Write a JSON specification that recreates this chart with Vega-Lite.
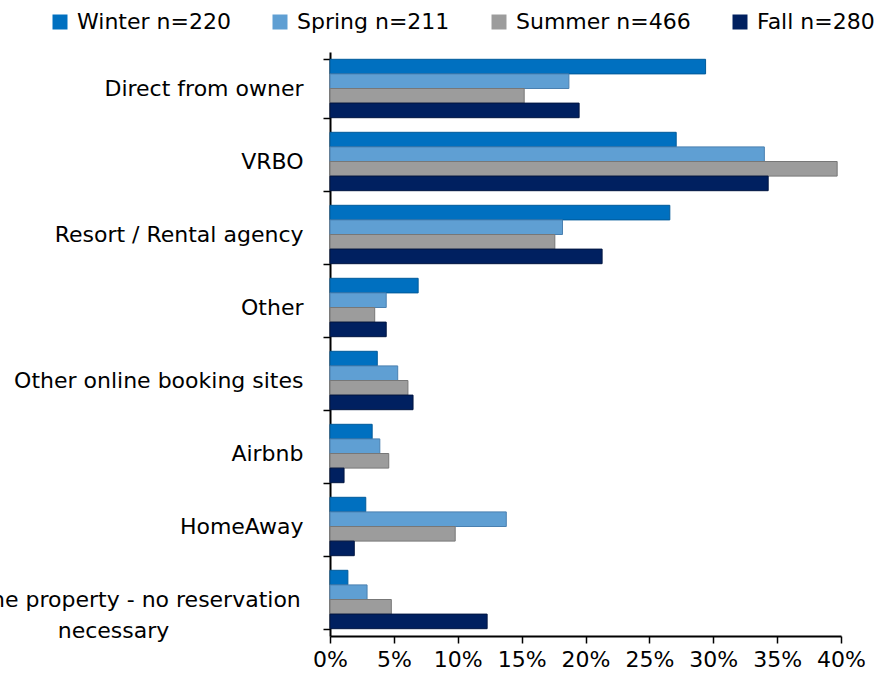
{
  "$schema": "https://vega.github.io/schema/vega-lite/v6.json",
  "width": 511,
  "height": 584,
  "autosize": {"type": "none"},
  "padding": {"left": 330, "top": 52, "right": 47, "bottom": 48},
  "background": "white",
  "config": {
    "view": {"stroke": null},
    "font": "DejaVu Sans",
    "legend": {"padding": 0}
  },
  "data": {
    "values": [
      {"channel": "Direct from owner", "season": "Winter n=220", "share": 0.294},
      {"channel": "Direct from owner", "season": "Spring n=211", "share": 0.187},
      {"channel": "Direct from owner", "season": "Summer n=466", "share": 0.152},
      {"channel": "Direct from owner", "season": "Fall n=280", "share": 0.195},
      {"channel": "VRBO", "season": "Winter n=220", "share": 0.271},
      {"channel": "VRBO", "season": "Spring n=211", "share": 0.340},
      {"channel": "VRBO", "season": "Summer n=466", "share": 0.397},
      {"channel": "VRBO", "season": "Fall n=280", "share": 0.343},
      {"channel": "Resort / Rental agency", "season": "Winter n=220", "share": 0.266},
      {"channel": "Resort / Rental agency", "season": "Spring n=211", "share": 0.182},
      {"channel": "Resort / Rental agency", "season": "Summer n=466", "share": 0.176},
      {"channel": "Resort / Rental agency", "season": "Fall n=280", "share": 0.213},
      {"channel": "Other", "season": "Winter n=220", "share": 0.069},
      {"channel": "Other", "season": "Spring n=211", "share": 0.044},
      {"channel": "Other", "season": "Summer n=466", "share": 0.035},
      {"channel": "Other", "season": "Fall n=280", "share": 0.044},
      {"channel": "Other online booking sites", "season": "Winter n=220", "share": 0.037},
      {"channel": "Other online booking sites", "season": "Spring n=211", "share": 0.053},
      {"channel": "Other online booking sites", "season": "Summer n=466", "share": 0.061},
      {"channel": "Other online booking sites", "season": "Fall n=280", "share": 0.065},
      {"channel": "Airbnb", "season": "Winter n=220", "share": 0.033},
      {"channel": "Airbnb", "season": "Spring n=211", "share": 0.039},
      {"channel": "Airbnb", "season": "Summer n=466", "share": 0.046},
      {"channel": "Airbnb", "season": "Fall n=280", "share": 0.011},
      {"channel": "HomeAway", "season": "Winter n=220", "share": 0.028},
      {"channel": "HomeAway", "season": "Spring n=211", "share": 0.138},
      {"channel": "HomeAway", "season": "Summer n=466", "share": 0.098},
      {"channel": "HomeAway", "season": "Fall n=280", "share": 0.019},
      {"channel": "Own the property - no reservation necessary", "season": "Winter n=220", "share": 0.014},
      {"channel": "Own the property - no reservation necessary", "season": "Spring n=211", "share": 0.029},
      {"channel": "Own the property - no reservation necessary", "season": "Summer n=466", "share": 0.048},
      {"channel": "Own the property - no reservation necessary", "season": "Fall n=280", "share": 0.123}
    ]
  },
  "mark": {"type": "bar", "strokeWidth": 1},
  "encoding": {
    "y": {
      "field": "channel",
      "type": "nominal",
      "sort": ["Direct from owner", "VRBO", "Resort / Rental agency", "Other", "Other online booking sites", "Airbnb", "HomeAway", "Own the property - no reservation necessary"],
      "scale": {"paddingInner": 0.2, "paddingOuter": 0.1},
      "axis": {
        "title": null,
        "grid": false,
        "tickBand": "extent",
        "tickSize": 7,
        "tickColor": "black",
        "tickWidth": 1.5,
        "domainColor": "black",
        "domainWidth": 2,
        "labelFont": "DejaVu Sans",
        "labelFontSize": 22,
        "labelColor": "black",
        "labelLimit": 800,
        "labelLineHeight": 31,
        "labelExpr": "datum.value == 'Own the property - no reservation necessary' ? ['Own the property - no reservation', 'necessary'] : datum.label",
        "labelAlign": {"condition": {"test": "datum.value == 'Own the property - no reservation necessary'", "value": "center"}, "value": "right"},
        "labelPadding": {"condition": {"test": "datum.value == 'Own the property - no reservation necessary'", "value": 210}, "value": 20}
      }
    },
    "yOffset": {
      "field": "season",
      "type": "nominal",
      "sort": ["Winter n=220", "Spring n=211", "Summer n=466", "Fall n=280"]
    },
    "x": {
      "field": "share",
      "type": "quantitative",
      "scale": {"domain": [0, 0.4], "nice": false},
      "axis": {
        "title": null,
        "grid": false,
        "values": [0, 0.05, 0.1, 0.15, 0.2, 0.25, 0.3, 0.35, 0.4],
        "format": ".0%",
        "tickSize": 7,
        "tickColor": "black",
        "tickWidth": 1.5,
        "domainColor": "black",
        "domainWidth": 2,
        "labelFont": "DejaVu Sans",
        "labelFontSize": 22,
        "labelColor": "black",
        "labelPadding": 6,
        "labelFlush": false
      }
    },
    "color": {
      "field": "season",
      "type": "nominal",
      "scale": {
        "domain": ["Winter n=220", "Spring n=211", "Summer n=466", "Fall n=280"],
        "range": ["#0070C0", "#5F9FD3", "#9C9C9C", "#002060"]
      },
      "legend": {
        "title": null,
        "orient": "none",
        "legendX": -281,
        "legendY": -41,
        "direction": "horizontal",
        "columns": 4,
        "symbolType": "square",
        "symbolSize": 225,
        "symbolStrokeWidth": 0,
        "symbolOpacity": 1,
        "labelFont": "DejaVu Sans",
        "labelFontSize": 22,
        "labelColor": "black",
        "labelOffset": 6,
        "columnPadding": 38,
        "labelLimit": 400
      }
    },
    "stroke": {
      "field": "season",
      "type": "nominal",
      "scale": {
        "domain": ["Winter n=220", "Spring n=211", "Summer n=466", "Fall n=280"],
        "range": ["#005A9A", "#4A80B0", "#777777", "#001540"]
      },
      "legend": null
    }
  }
}
